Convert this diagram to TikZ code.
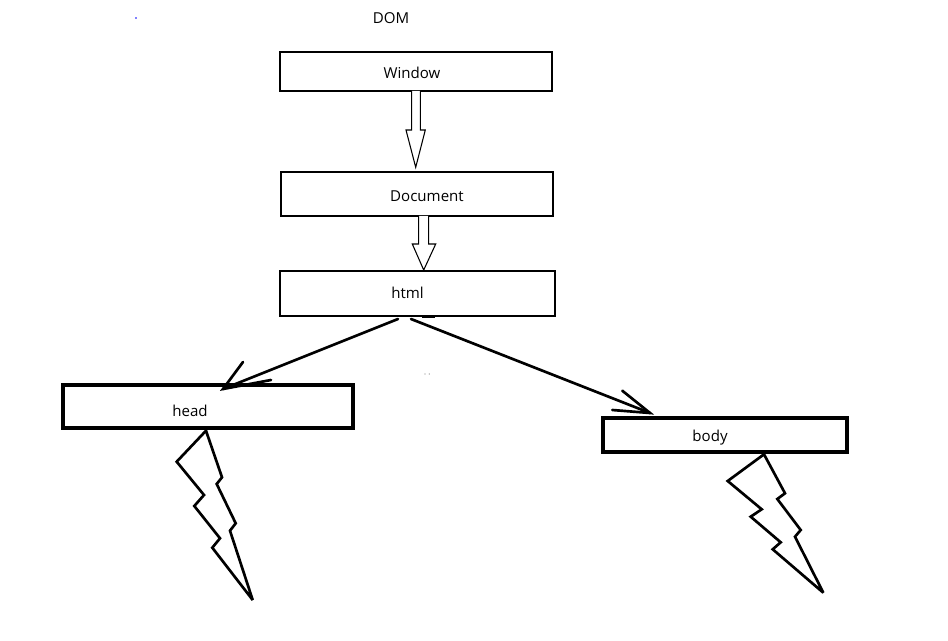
\documentclass[tikz,border=0pt]{standalone}
\usepackage{fontspec}
\setmainfont{Open Sans}
\tikzset{
  thinbox/.style={draw=black, line width=0.8pt, inner sep=0pt, outer sep=0pt},
  thickbox/.style={draw=black, line width=2.3pt, inner sep=0pt, outer sep=0pt},
  lbl/.style={inner sep=0pt, font=\fontsize{11.3}{13}\selectfont, text=black},
  blockarrow/.style={draw=black, line width=0.8pt, fill=white, line join=miter},
  linkline/.style={draw=black, line width=2pt, line cap=round},
  bolt/.style={draw=black, line width=2pt, line join=miter, miter limit=2}
}
\begin{document}
\begin{tikzpicture}[x=0.75pt,y=-0.75pt]
\useasboundingbox (0,0) rectangle (948,641);
% boxes
\node[thinbox, minimum width=204pt, minimum height=29.25pt] (window) at (416,71.5) {};
\node[thinbox, minimum width=204pt, minimum height=33pt] (document) at (417,194) {};
\node[thinbox, minimum width=206.25pt, minimum height=33.75pt] (html) at (417.5,293.5) {};
\node[thickbox, minimum width=217.5pt, minimum height=32.25pt] (head) at (208,406.5) {};
\node[thickbox, minimum width=183pt, minimum height=25.5pt] (body) at (725,435) {};
% labels
\node[lbl] (domlbl) at (391,18) {DOM};
\node[lbl] (windowlbl) at (412,73) {Window};
\node[lbl] (documentlbl) at (427,196) {Document};
\node[lbl] (htmllbl) at (407.5,293) {html};
\node[lbl] (headlbl) at (190,411) {head};
\node[lbl] (bodylbl) at (710,438) {body};
% hollow block arrows
\draw[blockarrow] (411.7,91) -- (411.7,130) -- (406,130) -- (415.7,167.3) -- (425.3,130) -- (420.3,130) -- (420.3,91);
\draw[blockarrow] (418.7,216) -- (418.7,244) -- (412.3,244) -- (423.7,270) -- (435.7,244) -- (428.7,244) -- (428.7,216);
% diagonal arrows
\coordinate (hs1) at (398,319);
\coordinate (ht1) at (223,389);
\coordinate (hs2) at (411,319);
\coordinate (ht2) at (650,413);
\draw[linkline] (hs1) -- (ht1);
\draw[linkline] (243,362) -- (ht1) -- (271,380);
\draw[linkline] (hs2) -- (ht2);
\draw[linkline] (622.3,390.7) -- (ht2) -- (612.3,410);
% lightning bolts
\draw[bolt] (206,430.7) -- (176.7,461.7) -- (204,495) -- (194.3,506) -- (220,538.3) -- (212.3,547.7) -- (252.7,600) -- (230,530.7) -- (235.7,523.3) -- (216.7,484) -- (222,477.3) -- cycle;
\draw[bolt] (764,454.3) -- (727.7,481) -- (761.7,509.3) -- (750.7,516.7) -- (780.7,542.3) -- (772.7,549.3) -- (823.3,592.7) -- (795,536.7) -- (800.7,530) -- (777.3,499) -- (785,493.3) -- cycle;
% small marks
\draw[black, line width=1.5pt] (422,316.5) -- (435,316.5);
\fill[blue] (136,18) circle (0.9);
\fill[gray] (425,374) circle (0.6);
\fill[gray] (429.3,374) circle (0.6);
\end{tikzpicture}
\end{document}
